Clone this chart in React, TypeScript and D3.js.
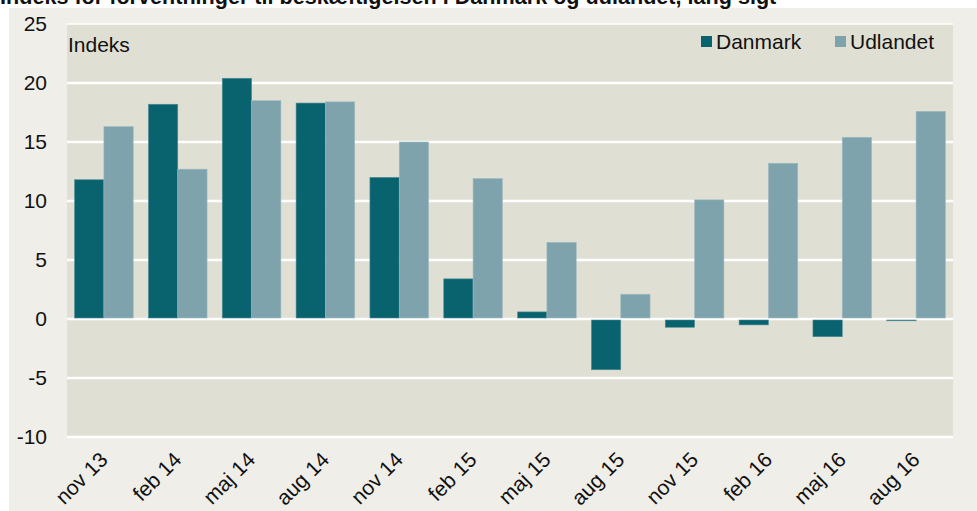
import React from "react";
import * as d3 from "d3";

const categories = ["nov 13", "feb 14", "maj 14", "aug 14", "nov 14", "feb 15", "maj 15", "aug 15", "nov 15", "feb 16", "maj 16", "aug 16"];
const danmark = [11.8, 18.2, 20.4, 18.3, 12.0, 3.4, 0.6, -4.3, -0.7, -0.5, -1.5, -0.1];
const udlandet = [16.3, 12.7, 18.5, 18.4, 15.0, 11.9, 6.5, 2.1, 10.1, 13.2, 15.4, 17.6];
const yTicks = [-10, -5, 0, 5, 10, 15, 20, 25];
const seriesNames = ["Danmark", "Udlandet"];
const colors = ["#08636f", "#7ea3ad"];
const strokes = ["#4f8b94", "#9dbbc2"];

const W = 977, H = 511;
const plot = { left: 67, right: 953, top: 24, bottom: 437 };
const font = "'Liberation Sans', Arial, sans-serif";

export default function App() {
  const x = d3.scaleBand<string>().domain(categories).range([plot.left, plot.right]);
  const step = x.step();
  const groupW = step * 0.794;
  const inner = d3.scaleBand<string>().domain(seriesNames).range([0, groupW]);
  const y = d3.scaleLinear().domain([-10, 25]).range([plot.bottom, plot.top]);
  const series = [danmark, udlandet];

  return (
    <svg width={W} height={H} style={{ position: "absolute", left: 0, top: 0 }} fontFamily={font}>
      <rect x={0} y={0} width={W} height={H} fill="#ffffff" />
      <rect x={9} y={8} width={W - 9} height={H - 8} fill="#efeee8" />
      <text x={0} y={4} fontSize={21.6} fontWeight="bold" fill="#111">Indeks for forventninger til beskæftigelsen i Danmark og udlandet, lang sigt</text>
      <rect x={plot.left} y={plot.top} width={plot.right - plot.left} height={plot.bottom - plot.top} fill="#e0dfd3" />
      {yTicks.map((t) => (
        <g key={t}>
          <line x1={plot.left} x2={plot.right} y1={y(t)} y2={y(t)} stroke="#ffffff" strokeWidth={t === 25 ? 1.5 : 2.5} />
          <text x={47} y={y(t)} dy="0.35em" textAnchor="end" fontSize={21} fill="#111">{t}</text>
        </g>
      ))}
      {series.map((vals, s) =>
        vals.map((v, i) => {
          const bx = (x(categories[i]) as number) + (step - groupW) / 2 + (inner(seriesNames[s]) as number);
          const bw = inner.bandwidth();
          const y0 = y(Math.max(0, v));
          const h = Math.abs(y(v) - y(0));
          return (
            <rect key={s + "-" + i} x={bx} y={v >= 0 ? y0 : y(0) + 1} width={bw} height={Math.max(h - 1, 0.8)}
              fill={colors[s]} stroke={strokes[s]} strokeWidth={0.6} />
          );
        })
      )}
      {categories.map((c) => {
        const cx = (x(c) as number) + step / 2;
        return (
          <text key={c} transform={`translate(${cx + 5},${461}) rotate(-45)`} textAnchor="end" fontSize={21} fill="#111">{c}</text>
        );
      })}
      <text x={68} y={52} fontSize={21} fill="#111">Indeks</text>
      <rect x={701} y={36} width={11} height={11} fill={colors[0]} />
      <text x={716} y={49} fontSize={21} fill="#111">Danmark</text>
      <rect x={835} y={36} width={11} height={11} fill={colors[1]} />
      <text x={850} y={49} fontSize={21} fill="#111">Udlandet</text>
    </svg>
  );
}
